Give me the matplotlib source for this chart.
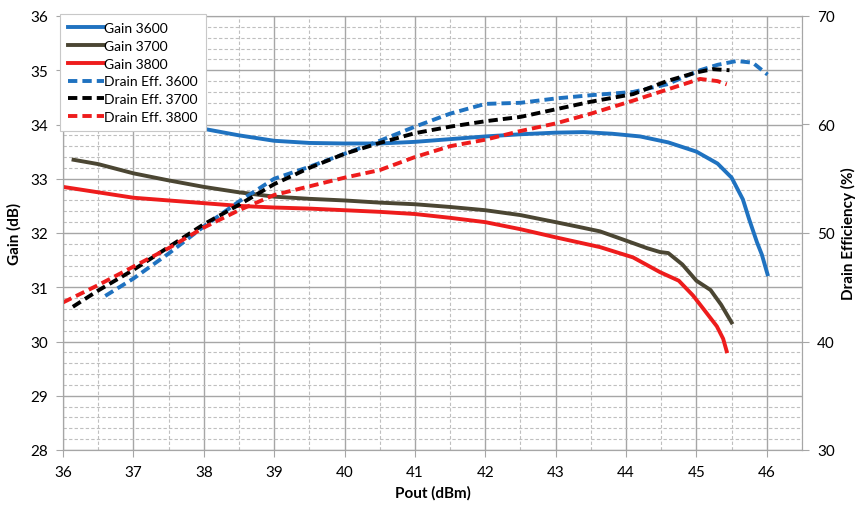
import numpy as np
import matplotlib.pyplot as plt
from matplotlib.ticker import MultipleLocator

plt.rcParams['font.family'] = ['Lato', 'DejaVu Sans']

# gain curves (Pout dBm, Gain dB)
g3600_x = [37.5, 38.0, 38.5, 39.0, 39.5, 40.0, 40.5, 41.0, 41.5, 42.0, 42.5, 43.0, 43.4,
           43.8, 44.2, 44.6, 45.0, 45.3, 45.5, 45.66, 45.75, 45.86, 45.93, 46.01]
g3600_y = [34.02, 33.92, 33.8, 33.7, 33.66, 33.65, 33.65, 33.68, 33.73, 33.78, 33.82, 33.85, 33.86,
           33.83, 33.78, 33.67, 33.5, 33.28, 33.02, 32.62, 32.25, 31.83, 31.6, 31.24]

g3700_x = [36.15, 36.5, 37.0, 37.5, 38.0, 38.5, 39.0, 39.5, 40.0, 40.5, 41.0, 41.5, 42.0, 42.5,
           43.0, 43.3, 43.63, 44.0, 44.3, 44.48, 44.6, 44.8, 45.0, 45.2, 45.35, 45.5]
g3700_y = [33.35, 33.27, 33.1, 32.97, 32.85, 32.75, 32.67, 32.63, 32.6, 32.56, 32.53, 32.48, 32.42, 32.33,
           32.2, 32.12, 32.03, 31.86, 31.72, 31.65, 31.63, 31.42, 31.12, 30.95, 30.68, 30.35]

g3800_x = [36.0, 36.5, 37.0, 37.5, 38.0, 38.5, 39.0, 39.5, 40.0, 40.5, 41.0, 41.5, 42.0, 42.5,
           43.0, 43.63, 44.1, 44.48, 44.75, 44.95, 45.1, 45.29, 45.38, 45.43]
g3800_y = [32.85, 32.75, 32.65, 32.6, 32.55, 32.5, 32.47, 32.45, 32.42, 32.39, 32.35, 32.28, 32.2, 32.07,
           31.92, 31.74, 31.55, 31.28, 31.12, 30.85, 30.6, 30.28, 30.05, 29.82]

# drain efficiency curves (Pout dBm, %)
d3600_x = [36.6, 37.0, 37.5, 38.0, 38.5, 39.0, 39.5, 40.0, 40.5, 41.0, 41.5, 42.0, 42.5, 43.0,
           43.5, 44.1, 44.58, 45.05, 45.3, 45.57, 45.8, 46.01]
d3600_y = [44.2, 45.8, 48.1, 50.6, 52.9, 55.0, 56.1, 57.3, 58.5, 59.8, 61.0, 61.9, 62.0, 62.4,
           62.7, 63.0, 63.7, 65.0, 65.5, 65.85, 65.7, 64.6]

d3700_x = [36.14, 36.5, 37.0, 37.5, 38.0, 38.5, 39.0, 39.5, 40.0, 40.5, 41.0, 41.5, 42.0, 42.5,
           43.0, 43.5, 44.1, 44.58, 45.0, 45.23, 45.47]
d3700_y = [43.2, 44.7, 46.6, 48.7, 50.8, 52.6, 54.5, 56.0, 57.3, 58.3, 59.2, 59.8, 60.3, 60.7,
           61.4, 62.1, 62.8, 64.0, 64.8, 65.1, 65.0]

d3800_x = [36.0, 36.5, 37.0, 37.5, 38.0, 38.5, 39.0, 39.5, 40.0, 40.5, 41.0, 41.5, 42.0, 42.5,
           43.0, 43.5, 44.1, 44.48, 45.05, 45.3, 45.43]
d3800_y = [43.6, 45.2, 46.9, 48.6, 50.5, 52.1, 53.5, 54.3, 55.1, 55.8, 57.0, 58.0, 58.6, 59.4,
           60.1, 61.0, 62.2, 63.0, 64.2, 64.0, 63.7]

blue = '#1f72c0'
olive = '#4b4633'
red = '#ee1c1c'

fig = plt.figure(figsize=(8.59, 5.06), dpi=100)
ax = fig.add_axes([63 / 859, 1 - 451 / 506, 739 / 859, 434 / 506])
ax2 = ax.twinx()

ax.set_xlim(36, 46.5)
ax.set_ylim(28, 36)
ax2.set_ylim(30, 70)

ax.xaxis.set_major_locator(MultipleLocator(1))
ax.xaxis.set_minor_locator(MultipleLocator(0.5))
ax.yaxis.set_major_locator(MultipleLocator(1))
ax.yaxis.set_minor_locator(MultipleLocator(0.2))
ax2.yaxis.set_major_locator(MultipleLocator(10))
ax2.yaxis.set_minor_locator(MultipleLocator(2))

ax.grid(which='major', color='#a6a6a6', lw=1.0, ls='-')
ax.grid(which='minor', color='#bfbfbf', lw=0.8, ls=(0, (3, 2)))
ax.set_axisbelow(True)

for s in ax.spines.values():
    s.set_color('#a6a6a6')
for s in ax2.spines.values():
    s.set_color('#a6a6a6')

ax.tick_params(which='major', length=5, color='#a6a6a6', labelsize=11, pad=6)
ax.tick_params(which='minor', length=0)
ax2.tick_params(which='major', length=5, color='#a6a6a6', labelsize=11, pad=6)
ax2.tick_params(which='minor', length=0)

lw = 2.8
h1, = ax2.plot(g3600_x, [30 + (v - 28) * 5 for v in g3600_y], color=blue, lw=lw, label='Gain 3600')
h2, = ax2.plot(g3700_x, [30 + (v - 28) * 5 for v in g3700_y], color=olive, lw=lw, label='Gain 3700')
h3, = ax2.plot(g3800_x, [30 + (v - 28) * 5 for v in g3800_y], color=red, lw=lw, label='Gain 3800')
dash = (0, (2.4, 1.3))
h4, = ax2.plot(d3600_x, d3600_y, color=blue, lw=lw, ls=dash, label='Drain Eff. 3600')
h5, = ax2.plot(d3700_x, d3700_y, color='black', lw=lw, ls=dash, label='Drain Eff. 3700')
h6, = ax2.plot(d3800_x, d3800_y, color=red, lw=lw, ls=dash, label='Drain Eff. 3800')

ax.set_xlabel('Pout (dBm)', fontsize=11, fontweight='bold', labelpad=4)
ax.set_ylabel('Gain (dB)', fontsize=11, fontweight='bold', labelpad=6)
ax2.set_ylabel('Drain Efficiency (%)', fontsize=11, fontweight='bold', labelpad=4)

leg = ax2.legend(handles=[h1, h2, h3, h4, h5, h6], loc='upper left',
                 bbox_to_anchor=(-0.004, 1.004), fontsize=10, frameon=True,
                 fancybox=False, framealpha=1, edgecolor='#c8c8c8',
                 handlelength=2.6, handletextpad=0.05, labelspacing=0.42,
                 borderpad=0.55, borderaxespad=0)
leg.get_frame().set_linewidth(0.8)

fig.savefig('out.png', dpi=100)
